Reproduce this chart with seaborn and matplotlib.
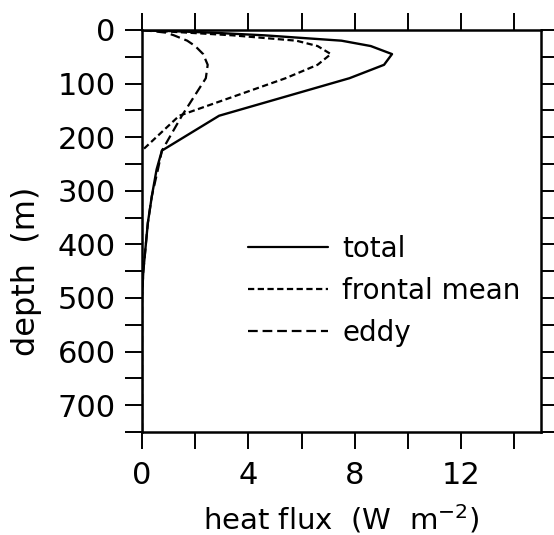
import numpy as np
import pandas as pd
import seaborn as sns
import matplotlib.pyplot as plt

# heat flux profiles (depth in m, flux in W m^-2)
depth = [0, 5, 10, 20, 30, 45, 65, 90, 160, 225, 260, 310, 360, 450, 500, 600, 750]
total = [0, 2.6, 4.6, 7.5, 8.6, 9.4, 9.1, 7.8, 2.9, 0.75, 0.55, 0.37, 0.22, 0.05, 0.0, 0.0, 0.0]
frontal = [0, 1.7, 3.4, 5.8, 6.6, 7.1, 6.6, 5.4, 1.4, 0.0, -0.08, 0.0, 0.0, 0.0, 0.0, 0.0, 0.0]
eddy = [0, 0.9, 1.2, 1.7, 2.0, 2.3, 2.47, 2.4, 1.5, 0.75, 0.6, 0.37, 0.22, 0.05, 0.0, 0.0, 0.0]

xticks = list(range(0, 15, 2))
xticklabels = ['0', '', '4', '', '8', '', '12', '']
yticks = list(range(0, 751, 50))
yticklabels = [str(v) if v % 100 == 0 and v < 750 else '' for v in yticks]

data = pd.DataFrame({'depth': depth, 'total': total, 'frontal mean': frontal, 'eddy': eddy})

sns.set_style("ticks")
plt.rcParams['font.family'] = ['DejaVu Sans']
plt.rcParams['lines.scale_dashes'] = False
plt.rcParams['text.color'] = 'black'
plt.rcParams['axes.labelcolor'] = 'black'
plt.rcParams['xtick.color'] = 'black'
plt.rcParams['ytick.color'] = 'black'

fig = plt.figure(figsize=(5.54, 5.35), dpi=100)
ax = fig.add_axes([0.2563, 0.1925, 0.7202, 0.7515])

sns.lineplot(x='total', y='depth', data=data, sort=False, estimator=None, orient='y',
             color='black', lw=1.7, label='total', ax=ax)
sns.lineplot(x='frontal mean', y='depth', data=data, sort=False, estimator=None, orient='y',
             color='black', lw=1.6, linestyle=(0, (4.5, 2.5)), label='frontal mean', ax=ax)
sns.lineplot(x='eddy', y='depth', data=data, sort=False, estimator=None, orient='y',
             color='black', lw=1.6, linestyle=(0, (7, 3.5)), label='eddy', ax=ax)

ax.set_xlim(0, 15)
ax.set_ylim(750, 0)
ax.set_xticks(xticks)
ax.set_xticklabels(xticklabels)
ax.set_yticks(yticks)
ax.set_yticklabels(yticklabels)

for s in ax.spines.values():
    s.set_visible(True)
    s.set_linewidth(1.8)
    s.set_color('black')

ax.tick_params(axis='both', which='major', direction='out', length=12, width=1.4,
               color='black', labelsize=22, top=True, right=True)
ax.tick_params(axis='x', pad=9)
ax.tick_params(axis='y', pad=7)

ax.set_xlabel("heat flux  (W  m$^{-2}$)", fontsize=21, labelpad=9)
ax.set_ylabel("depth  (m)", fontsize=23)
ax.yaxis.set_label_coords(-0.25, 0.40)

leg = ax.legend(loc='upper left', bbox_to_anchor=(0.265, 0.49), frameon=False, fontsize=20,
                handlelength=2.9, handletextpad=0.5, labelspacing=0.5, borderpad=0,
                borderaxespad=0)
for line in leg.get_lines():
    line.set_linewidth(1.6)

fig.savefig("out.png", dpi=100)
